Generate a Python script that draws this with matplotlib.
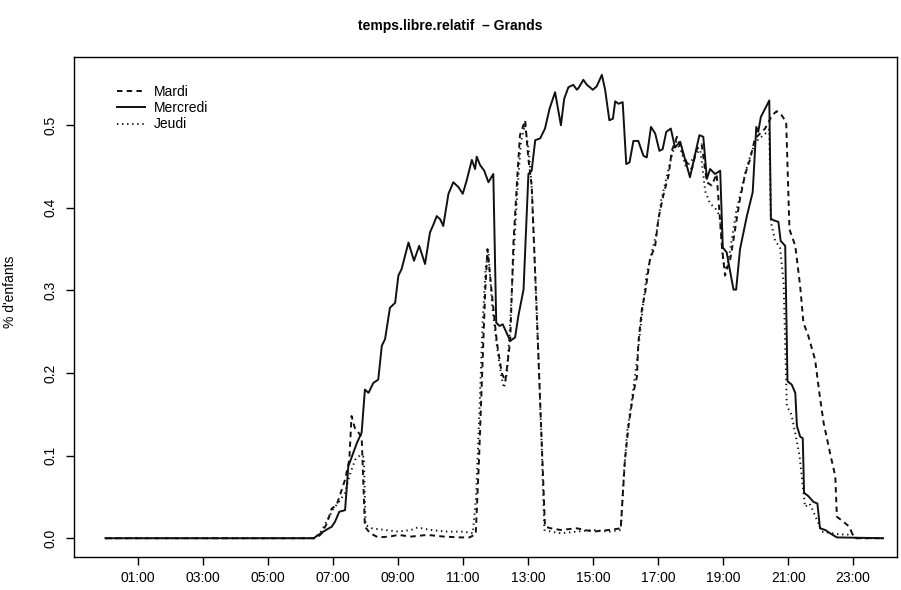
import numpy as np
import matplotlib
matplotlib.use("Agg")
import matplotlib.pyplot as plt

plt.rcParams['font.family'] = ['Liberation Sans', 'DejaVu Sans']

# (hour, share of children) vertices for each day
mardi = [
    (0.00, 0.000), (6.50, 0.000), (6.65, 0.006), (6.81, 0.018), (6.96, 0.036),
    (7.11, 0.040), (7.27, 0.059), (7.37, 0.071), (7.50, 0.095), (7.57, 0.148),
    (7.68, 0.132), (7.78, 0.128), (7.88, 0.123), (7.98, 0.014), (8.14, 0.006),
    (8.39, 0.001), (8.75, 0.002), (9.00, 0.004), (9.40, 0.002), (9.90, 0.004),
    (10.40, 0.002), (10.90, 0.001), (11.20, 0.001), (11.39, 0.005), (11.49, 0.095),
    (11.58, 0.192), (11.68, 0.298), (11.75, 0.350), (11.88, 0.298), (12.04, 0.237),
    (12.19, 0.200), (12.30, 0.190), (12.45, 0.239), (12.55, 0.358), (12.67, 0.439),
    (12.75, 0.488), (12.91, 0.506), (13.01, 0.459), (13.11, 0.427), (13.22, 0.318),
    (13.32, 0.217), (13.42, 0.115), (13.52, 0.014), (13.70, 0.012), (14.00, 0.010),
    (14.50, 0.012), (15.00, 0.008), (15.50, 0.010), (15.85, 0.012), (15.98, 0.095),
    (16.09, 0.136), (16.24, 0.176), (16.35, 0.196), (16.39, 0.236), (16.50, 0.277),
    (16.60, 0.297), (16.75, 0.338), (16.91, 0.354), (17.01, 0.387), (17.16, 0.415),
    (17.32, 0.439), (17.42, 0.469), (17.58, 0.486), (17.73, 0.469), (17.88, 0.455),
    (18.04, 0.447), (18.19, 0.471), (18.34, 0.477), (18.50, 0.431), (18.65, 0.427),
    (18.80, 0.441), (18.97, 0.350), (19.06, 0.318), (19.22, 0.338), (19.32, 0.362),
    (19.42, 0.387), (19.52, 0.411), (19.68, 0.441), (19.83, 0.459), (19.98, 0.484),
    (20.14, 0.490), (20.29, 0.496), (20.40, 0.504), (20.50, 0.512), (20.65, 0.517),
    (20.80, 0.512), (20.94, 0.504), (21.04, 0.374), (21.22, 0.354), (21.37, 0.305),
    (21.47, 0.261), (21.62, 0.245), (21.83, 0.216), (21.96, 0.176), (22.09, 0.140),
    (22.29, 0.103), (22.45, 0.075), (22.50, 0.026), (22.70, 0.020), (22.88, 0.014),
    (23.01, 0.002), (23.10, 0.000), (23.92, 0.000),
]

mercredi = [
    (0.00, 0.000), (6.40, 0.000), (6.70, 0.008), (6.96, 0.014), (7.06, 0.020),
    (7.19, 0.032), (7.37, 0.034), (7.47, 0.087), (7.73, 0.115), (7.88, 0.128),
    (7.98, 0.180), (8.09, 0.176), (8.24, 0.188), (8.39, 0.192), (8.50, 0.233),
    (8.60, 0.241), (8.75, 0.279), (8.91, 0.285), (9.01, 0.318), (9.11, 0.326),
    (9.32, 0.358), (9.49, 0.336), (9.65, 0.354), (9.83, 0.332), (9.98, 0.370),
    (10.09, 0.380), (10.19, 0.390), (10.30, 0.386), (10.39, 0.378), (10.55, 0.417),
    (10.70, 0.431), (10.86, 0.425), (10.99, 0.417), (11.11, 0.433), (11.27, 0.458),
    (11.37, 0.447), (11.42, 0.462), (11.52, 0.452), (11.65, 0.445), (11.78, 0.431),
    (11.93, 0.441), (12.02, 0.261), (12.12, 0.257), (12.22, 0.259), (12.45, 0.239),
    (12.60, 0.243), (12.70, 0.269), (12.86, 0.301), (13.01, 0.441), (13.11, 0.445),
    (13.22, 0.482), (13.37, 0.484), (13.52, 0.496), (13.66, 0.520), (13.83, 0.540),
    (14.01, 0.500), (14.11, 0.532), (14.24, 0.546), (14.39, 0.549), (14.50, 0.543),
    (14.55, 0.545), (14.70, 0.555), (14.81, 0.549), (14.99, 0.543), (15.11, 0.547),
    (15.27, 0.561), (15.37, 0.543), (15.50, 0.506), (15.61, 0.508), (15.68, 0.529),
    (15.78, 0.526), (15.91, 0.528), (16.02, 0.453), (16.12, 0.455), (16.24, 0.481),
    (16.39, 0.481), (16.55, 0.463), (16.65, 0.461), (16.78, 0.498), (16.91, 0.490),
    (17.04, 0.469), (17.14, 0.471), (17.25, 0.492), (17.39, 0.496), (17.52, 0.473),
    (17.68, 0.480), (17.98, 0.437), (18.27, 0.488), (18.39, 0.486), (18.50, 0.435),
    (18.60, 0.447), (18.75, 0.441), (18.91, 0.445), (18.99, 0.352), (19.11, 0.346),
    (19.22, 0.322), (19.32, 0.301), (19.40, 0.301), (19.52, 0.350), (19.73, 0.390),
    (19.91, 0.419), (20.02, 0.498), (20.08, 0.492), (20.16, 0.510), (20.29, 0.520),
    (20.42, 0.530), (20.47, 0.387), (20.55, 0.385), (20.70, 0.383), (20.77, 0.360),
    (20.91, 0.354), (20.98, 0.190), (21.11, 0.186), (21.22, 0.176), (21.27, 0.136),
    (21.37, 0.123), (21.45, 0.121), (21.49, 0.055), (21.62, 0.051), (21.78, 0.044),
    (21.90, 0.042), (21.98, 0.012), (22.14, 0.010), (22.29, 0.006), (22.50, 0.001),
    (23.92, 0.000),
]

jeudi = [
    (0.00, 0.000), (6.40, 0.000), (6.60, 0.006), (6.80, 0.020), (7.00, 0.035),
    (7.20, 0.045), (7.37, 0.055), (7.50, 0.075), (7.68, 0.095), (7.85, 0.101),
    (7.95, 0.098), (8.00, 0.016), (8.20, 0.012), (8.60, 0.010), (9.00, 0.008),
    (9.40, 0.010), (9.60, 0.013), (10.00, 0.010), (10.50, 0.008), (11.00, 0.008),
    (11.30, 0.006), (11.40, 0.050), (11.50, 0.150), (11.60, 0.260), (11.70, 0.330),
    (11.78, 0.345), (11.90, 0.280), (12.05, 0.230), (12.18, 0.195), (12.26, 0.182),
    (12.35, 0.200), (12.45, 0.260), (12.55, 0.340), (12.67, 0.420), (12.78, 0.480),
    (12.90, 0.500), (13.02, 0.470), (13.12, 0.420), (13.22, 0.320), (13.32, 0.220),
    (13.42, 0.110), (13.50, 0.010), (13.70, 0.008), (14.00, 0.006), (14.50, 0.008),
    (15.00, 0.010), (15.50, 0.008), (15.85, 0.010), (15.95, 0.080), (16.05, 0.130),
    (16.20, 0.170), (16.35, 0.215), (16.50, 0.270), (16.65, 0.320), (16.80, 0.345),
    (16.95, 0.370), (17.10, 0.410), (17.25, 0.435), (17.40, 0.460), (17.55, 0.480),
    (17.70, 0.470), (17.85, 0.450), (18.00, 0.455), (18.15, 0.465), (18.30, 0.470),
    (18.45, 0.420), (18.60, 0.405), (18.75, 0.400), (18.90, 0.390), (19.00, 0.335),
    (19.10, 0.325), (19.20, 0.345), (19.30, 0.370), (19.40, 0.395), (19.55, 0.420),
    (19.70, 0.445), (19.85, 0.465), (20.00, 0.480), (20.15, 0.485), (20.30, 0.490),
    (20.42, 0.495), (20.47, 0.383), (20.60, 0.360), (20.75, 0.352), (20.86, 0.310),
    (20.96, 0.160), (21.10, 0.150), (21.22, 0.127), (21.35, 0.100), (21.52, 0.038),
    (21.66, 0.042), (21.80, 0.030), (22.04, 0.008), (22.50, 0.005), (23.01, 0.004),
    (23.10, 0.000), (23.92, 0.000),
]

tick_hours = [1, 3, 5, 7, 9, 11, 13, 15, 17, 19, 21, 23]
tick_labels = ["01:00", "03:00", "05:00", "07:00", "09:00", "11:00",
               "13:00", "15:00", "17:00", "19:00", "21:00", "23:00"]
y_ticks = [0.0, 0.1, 0.2, 0.3, 0.4, 0.5]

fig = plt.figure(figsize=(9.01, 5.90), dpi=100)
ax = fig.add_axes([0.0821, 0.0564, 0.9135, 0.8475])

lw = 1.4
for data, ls, name in [(mardi, (0, (2.8, 2.2)), "Mardi"),
                       (mercredi, "-", "Mercredi"),
                       (jeudi, (0, (0.7, 1.9)), "Jeudi")]:
    arr = np.array(data)
    ax.plot(arr[:, 0], arr[:, 1], color="#111111", lw=lw, linestyle=ls, label=name)

ax.set_xlim(-0.97, 24.35)
ax.set_ylim(-0.0224, 0.583)

ax.set_xticks(tick_hours)
ax.set_xticklabels(tick_labels, fontsize=10)
ax.set_yticks(y_ticks)
ax.set_yticklabels([f"{v:.1f}" for v in y_ticks], fontsize=10, rotation=90, va="center")
ax.tick_params(axis="both", direction="out", length=5.5, width=1.0, pad=5)
ax.tick_params(axis="y", pad=6)
for s in ax.spines.values():
    s.set_linewidth(1.0)

ax.set_ylabel("% d'enfants", fontsize=10)
ax.yaxis.set_label_coords(-0.069, 0.53)

fig.suptitle("temps.libre.relatif  \u2013 Grands", fontsize=10, fontweight="bold", y=0.967)

ax.legend(loc="upper left", bbox_to_anchor=(0.052, 0.943), frameon=False,
          fontsize=10, handlelength=2.0, handletextpad=0.7, labelspacing=0.15,
          borderpad=0, borderaxespad=0)

fig.savefig("out.png", dpi=100)
